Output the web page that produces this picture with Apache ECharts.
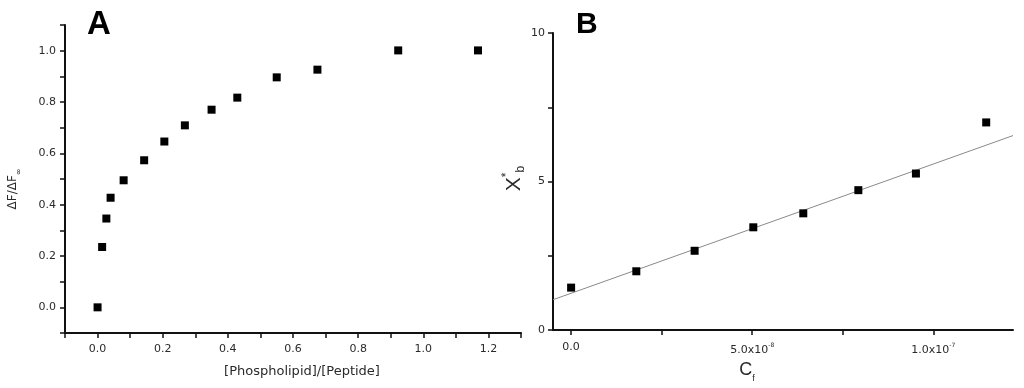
<!DOCTYPE html>
<html>
<head>
<meta charset="utf-8">
<script src="https://cdn.jsdelivr.net/npm/echarts@6/dist/echarts.min.js"></script>
<style>
  html, body { margin: 0; padding: 0; background: #fff; }
  #chart { width: 1024px; height: 388px; }
</style>
</head>
<body>
<div id="chart"></div>
<script>
// panel A: binding curve
const ratioX = [0.0, 0.014, 0.027, 0.040, 0.080, 0.143, 0.205, 0.268, 0.350, 0.429, 0.550, 0.675, 0.923, 1.168];
const fracY = [0.0, 0.235, 0.346, 0.427, 0.495, 0.573, 0.646, 0.709, 0.770, 0.817, 0.896, 0.926, 1.001, 1.001];
const aXLabels = [0, 0.2, 0.4, 0.6, 0.8, 1.0, 1.2];
const aXTicks = [-0.1, 0, 0.1, 0.2, 0.3, 0.4, 0.5, 0.6, 0.7, 0.8, 0.9, 1.0, 1.1, 1.2, 1.3];
const aYLabels = [0, 0.2, 0.4, 0.6, 0.8, 1.0];
const aYTicks = [-0.1, 0, 0.1, 0.2, 0.3, 0.4, 0.5, 0.6, 0.7, 0.8, 0.9, 1.0, 1.1];

// panel B: linear plot
const cfX = [0, 1.80e-8, 3.41e-8, 5.03e-8, 6.41e-8, 7.93e-8, 9.52e-8, 1.146e-7];
const xbY = [1.43, 1.98, 2.67, 3.46, 3.93, 4.71, 5.27, 6.99];
const fitSlope = 4.35e7;
const fitIntercept = 1.24;
const bXLabels = [0, 5e-8, 1e-7];
const bXTicks = [0, 2.5e-8, 5e-8, 7.5e-8, 1e-7];
const bYLabels = [0, 5, 10];
const bYTicks = [0, 2.5, 5, 7.5, 10];

const bXMin = -5e-9;
const bXMax = 1.22e-7;
const fitLine = [bXMin, bXMax].map((x) => [x, fitIntercept + fitSlope * x]);

const FONT = "Liberation Sans";
const TICKFONT = "DejaVu Sans";
const labelColor = "#2a2a2a";
const tickStyle = { color: "#111", width: 1.5 };

function sciLabel(v) {
  if (Math.abs(v) < 1e-12) return "0.0";
  const exp = Math.floor(Math.log10(Math.abs(v)) + 1e-9);
  const mant = (v / Math.pow(10, exp)).toFixed(1);
  return "{a|" + mant + "x10}{s|" + exp + "}";
}

function valueAxis(extra) {
  return Object.assign(
    {
      type: "value",
      splitLine: { show: false },
      axisLine: { onZero: false, lineStyle: { color: "#111", width: 2 } },
      nameLocation: "middle",
    },
    extra
  );
}

const option = {
  animation: false,
  backgroundColor: "#fff",
  title: [
    { text: "A", left: 82, top: 3, textStyle: { fontFamily: FONT, fontSize: 33, fontWeight: "bold", color: "#000" } },
    { text: "B", left: 571, top: 5, textStyle: { fontFamily: FONT, fontSize: 30, fontWeight: "bold", color: "#000" } },
  ],
  grid: [
    { left: 65, right: 503, top: 25, bottom: 55 },
    { left: 553, right: 11, top: 33, bottom: 54 },
  ],
  xAxis: [
    valueAxis({
      gridIndex: 0,
      min: -0.1,
      max: 1.3,
      axisTick: { customValues: aXTicks, length: 5, lineStyle: tickStyle },
      axisLabel: { customValues: aXLabels, color: labelColor, fontFamily: TICKFONT, fontSize: 11, margin: 11, formatter: (v) => v.toFixed(1) },
      name: "[Phospholipid]/[Peptide]",
      nameGap: 32,
      nameTextStyle: { color: labelColor, fontFamily: TICKFONT, fontSize: 13, padding: [0, 0, 0, 18] },
    }),
    valueAxis({
      gridIndex: 1,
      min: bXMin,
      max: bXMax,
      axisTick: { customValues: bXTicks, length: 5, lineStyle: tickStyle },
      axisLabel: {
        customValues: bXLabels,
        color: labelColor,
        fontFamily: TICKFONT,
        fontSize: 11,
        margin: 12,
        formatter: sciLabel,
        rich: {
          a: { fontFamily: TICKFONT, fontSize: 11, color: labelColor, lineHeight: 14, verticalAlign: "bottom" },
          s: { fontFamily: TICKFONT, fontSize: 6, color: labelColor, lineHeight: 14, verticalAlign: "top" },
        },
      },
      name: "{c|C}{f|f}",
      nameGap: 21,
      nameTextStyle: {
        padding: [0, 72, 0, 0],
        rich: {
          c: { fontFamily: FONT, fontSize: 18, color: labelColor, lineHeight: 22, verticalAlign: "top" },
          f: { fontFamily: FONT, fontSize: 9, color: labelColor, lineHeight: 22, verticalAlign: "bottom" },
        },
      },
    }),
  ],
  yAxis: [
    valueAxis({
      gridIndex: 0,
      min: -0.1,
      max: 1.1,
      axisTick: { customValues: aYTicks, length: 5, lineStyle: tickStyle },
      axisLabel: { customValues: aYLabels, color: labelColor, fontFamily: TICKFONT, fontSize: 11, margin: 9, formatter: (v) => v.toFixed(1) },
      name: "{m|ΔF/ΔF}{s|∞}",
      nameGap: 42,
      nameTextStyle: {
        padding: [0, 20, 0, 0],
        rich: {
          m: { fontFamily: TICKFONT, fontSize: 12, color: labelColor, lineHeight: 16, verticalAlign: "top" },
          s: { fontFamily: TICKFONT, fontSize: 8, color: labelColor, lineHeight: 16, verticalAlign: "bottom" },
        },
      },
    }),
    valueAxis({
      gridIndex: 1,
      min: 0,
      max: 10,
      axisTick: { customValues: bYTicks, length: 5, lineStyle: tickStyle },
      axisLabel: { customValues: bYLabels, color: labelColor, fontFamily: TICKFONT, fontSize: 11, margin: 8 },
      name: "{x|X}{st|*}{b|b}",
      nameGap: 22,
      nameTextStyle: {
        padding: [0, 0, 0, 6],
        rich: {
          x: { fontFamily: FONT, fontSize: 21, color: labelColor, lineHeight: 26, verticalAlign: "middle" },
          st: { fontFamily: FONT, fontSize: 12, color: labelColor, lineHeight: 26, verticalAlign: "top" },
          b: { fontFamily: FONT, fontSize: 12, color: labelColor, lineHeight: 26, verticalAlign: "bottom" },
        },
      },
    }),
  ],
  series: [
    {
      type: "scatter",
      xAxisIndex: 0,
      yAxisIndex: 0,
      symbol: "rect",
      symbolSize: 8,
      itemStyle: { color: "#000", opacity: 1 },
      data: ratioX.map((x, i) => [x, fracY[i]]),
    },
    {
      type: "line",
      xAxisIndex: 1,
      yAxisIndex: 1,
      showSymbol: false,
      silent: true,
      lineStyle: { color: "#8a8a8a", width: 1 },
      data: fitLine,
      z: 1,
    },
    {
      type: "scatter",
      xAxisIndex: 1,
      yAxisIndex: 1,
      symbol: "rect",
      symbolSize: 8,
      itemStyle: { color: "#000", opacity: 1 },
      data: cfX.map((x, i) => [x, xbY[i]]),
      z: 3,
    },
  ],
};

echarts.init(document.getElementById("chart"), null, { renderer: "canvas" }).setOption(option);
</script>
</body>
</html>
